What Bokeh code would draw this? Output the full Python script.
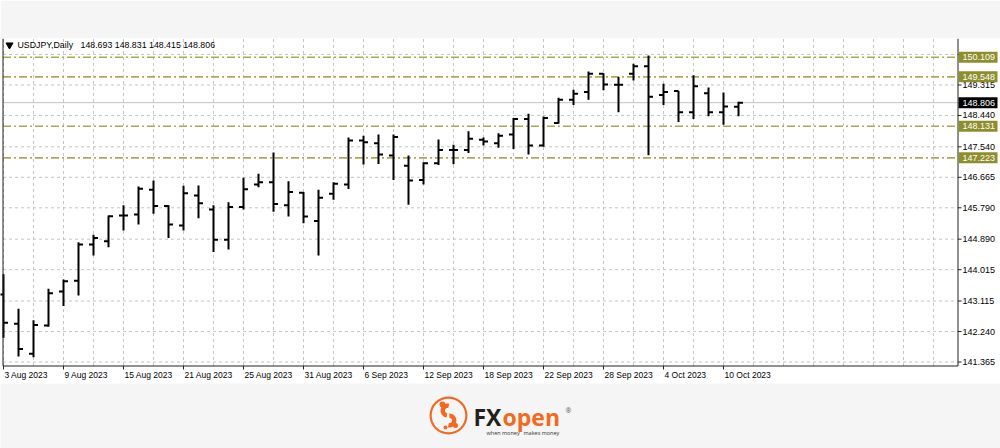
import pandas as pd
from bokeh.plotting import figure
from bokeh.layouts import column
from bokeh.models import Range1d, ColumnDataSource
from bokeh.core.properties import value
from bokeh.embed import file_html
from bokeh.resources import INLINE

# ---------------- data ----------------
symbol_label = "USDJPY,Daily"
dates = pd.bdate_range("2023-08-03", "2023-10-11")
opens = [143.30, 142.46, 141.60, 142.41, 143.39, 143.70, 144.74, 144.83, 145.57, 145.60,
         146.31, 145.84, 145.28, 146.14, 145.74, 144.87, 145.81, 146.46, 146.52, 145.86,
         146.22, 145.41, 146.19, 146.46, 147.72, 147.64, 147.29, 147.00, 146.59, 147.07,
         147.45, 147.45, 147.74, 147.64, 147.89, 148.34, 147.58, 148.22, 148.89, 149.11,
         149.64, 149.32, 149.64, 149.85, 149.03, 149.14, 148.53, 149.08, 148.53, 148.693]
highs = [143.88, 142.89, 142.56, 143.47, 143.73, 144.80, 145.02, 145.57, 145.86, 146.40,
         146.57, 145.86, 146.42, 146.43, 145.86, 145.95, 146.65, 146.77, 147.38, 146.55,
         146.24, 146.31, 146.52, 147.81, 147.86, 147.89, 147.89, 147.29, 147.10, 147.75,
         147.60, 147.99, 147.81, 147.93, 148.37, 148.49, 148.41, 148.95, 149.18, 149.70,
         149.65, 149.54, 149.92, 150.16, 149.35, 149.14, 149.59, 149.24, 149.10, 148.831]
lows = [142.06, 141.52, 141.50, 142.38, 142.97, 143.27, 144.42, 144.66, 145.14, 145.31,
        145.62, 144.92, 145.14, 145.49, 144.52, 144.59, 145.74, 146.38, 145.68, 145.54,
        145.35, 144.42, 146.02, 146.33, 147.03, 147.05, 146.59, 145.88, 146.46, 147.02,
        147.04, 147.36, 147.58, 147.51, 147.48, 147.32, 147.54, 148.20, 148.74, 148.89,
        149.16, 148.53, 149.44, 147.30, 148.74, 148.25, 148.34, 148.42, 148.17, 148.415]
closes = [142.49, 141.74, 142.43, 143.34, 143.68, 144.74, 144.92, 145.55, 145.57, 146.34,
          145.84, 145.31, 146.21, 145.92, 144.87, 145.81, 146.32, 146.52, 145.90, 146.24,
          145.54, 146.08, 146.48, 147.72, 147.67, 147.32, 147.82, 146.57, 147.07, 147.45,
          147.45, 147.77, 147.69, 147.86, 148.34, 147.58, 148.37, 148.89, 149.06, 149.64,
          149.33, 149.32, 149.85, 148.98, 149.11, 148.53, 149.28, 148.53, 148.70, 148.806]
price_ticks = [150.190, 149.315, 148.440, 147.540, 146.665, 145.790,
               144.890, 144.015, 143.115, 142.240, 141.365]
price_tick_labels = ["", "149.315", "148.440", "147.540", "146.665", "145.790",
                     "144.890", "144.015", "143.115", "142.240", "141.365"]
level_prices = [150.109, 149.548, 148.131, 147.223]
level_labels = ["150.109", "149.548", "148.131", "147.223"]
last_price = 148.806
last_label = "148.806"
date_label_step = 4
grid_step = 2

# ---------------- layout / style ----------------
W = 1000
TOP_BAND = 38
FRAME_H = 345
LOGO_H = 65
K = 15.0          # px per bar
PPY = 34.85       # px per yen
X0 = -3.0 / K
X1 = X0 + W / K
Y_TOP = 150.648
Y_BOT = Y_TOP - FRAME_H / PPY
BG = "#f5f5f5"
OLIVE_LINE = "#aaaa55"
OLIVE_BOX = "#8e8e2c"
GRID = "#c4c4c4"
AXIS = "#222222"
FONT = value("Liberation Sans")


def X(px):
    return X0 + px / K


def Y(py):
    return Y_TOP - (py - TOP_BAND) / PPY


n = len(opens)
idx = list(range(n))
T = 4.5 / K
src = ColumnDataSource(dict(
    x=idx, o=opens, h=highs, l=lows, c=closes,
    xl=[i - T for i in idx], xr=[i + T for i in idx],
))

p = figure(width=W, height=TOP_BAND + FRAME_H,
           x_range=Range1d(X0, X1), y_range=Range1d(Y_BOT, Y_TOP),
           x_axis_type=None, y_axis_type=None, toolbar_location=None,
           output_backend="svg",
           min_border_left=0, min_border_right=0, min_border_top=TOP_BAND,
           min_border_bottom=0, background_fill_color="white",
           border_fill_color=BG, outline_line_color=None)

x_axis_line = X(957.5)
x_left = X(2.5)
y_axis_line = Y(365.5)

# grid
gx = [i for i in range(0, int(x_axis_line) + 1, grid_step)]
p.segment(x0=gx, y0=[y_axis_line] * len(gx), x1=gx, y1=[Y_TOP] * len(gx),
          line_color=GRID, line_width=1, line_dash="3 3")
p.segment(x0=[x_left] * len(price_ticks), y0=price_ticks,
          x1=[x_axis_line] * len(price_ticks), y1=price_ticks,
          line_color=GRID, line_width=1, line_dash="3 3")

# current price line
p.segment(x0=[x_left], y0=[last_price], x1=[x_axis_line], y1=[last_price],
          line_color="#c0c0c0", line_width=1)

# horizontal levels
p.segment(x0=[x_left] * len(level_prices), y0=level_prices,
          x1=[x_axis_line] * len(level_prices), y1=level_prices,
          line_color=OLIVE_LINE, line_width=1.6, line_dash="8 3 2 3")

# OHLC bars
p.segment(x0="x", y0="l", x1="x", y1="h", source=src, line_color="black", line_width=2)
p.segment(x0="xl", y0="o", x1="x", y1="o", source=src, line_color="black", line_width=2)
p.segment(x0="x", y0="c", x1="xr", y1="c", source=src, line_color="black", line_width=2)

# frame lines (left border, bottom axis, right axis)
p.segment(x0=[x_left, x_left, x_axis_line], y0=[Y_TOP, y_axis_line, Y_TOP],
          x1=[x_left, x_axis_line, x_axis_line], y1=[y_axis_line, y_axis_line, y_axis_line],
          line_color=AXIS, line_width=1)

# right price axis ticks and labels
p.segment(x0=[x_axis_line] * len(price_ticks), y0=price_ticks,
          x1=[X(961)] * len(price_ticks), y1=price_ticks, line_color=AXIS, line_width=1)
lab_ticks = [t for t, s in zip(price_ticks, price_tick_labels) if s]
lab_texts = [s for s in price_tick_labels if s]
p.text(x=[X(962)] * len(lab_ticks), y=lab_ticks, text=lab_texts,
       text_font=FONT, text_font_size="9px", text_color="black",
       text_align="left", text_baseline="middle")

# level boxes + current price box
half_h = 5.5 / PPY
p.quad(left=[X(958)] * len(level_prices), right=[X(997)] * len(level_prices),
       top=[v + half_h for v in level_prices], bottom=[v - half_h for v in level_prices],
       fill_color=OLIVE_BOX, line_color=None)
p.text(x=[X(962)] * len(level_prices), y=level_prices, text=level_labels,
       text_font=FONT, text_font_size="9px", text_color="white",
       text_align="left", text_baseline="middle")
p.quad(left=[X(958)], right=[X(997)], top=[last_price + half_h], bottom=[last_price - half_h],
       fill_color="black", line_color=None)
p.text(x=[X(962)], y=[last_price], text=[last_label],
       text_font=FONT, text_font_size="9px", text_color="white",
       text_align="left", text_baseline="middle")

# date axis ticks and labels
di = idx[::date_label_step]
dlabels = [f"{d.day} {d.strftime('%b %Y')}" for d in dates[::date_label_step]]
p.segment(x0=di, y0=[y_axis_line] * len(di), x1=di, y1=[Y(369)] * len(di),
          line_color=AXIS, line_width=1)
p.text(x=[i + 1.0 / K for i in di], y=[Y(374)] * len(di), text=dlabels,
       text_font=FONT, text_font_size="8.5px", text_color="black",
       text_align="left", text_baseline="middle")

# header (symbol + last OHLC)
p.scatter(x=[X(9)], y=[Y(44.5)], marker="inverted_triangle", size=7,
          fill_color="black", line_color="black")
header_vals = f"{opens[-1]:.3f} {highs[-1]:.3f} {lows[-1]:.3f} {closes[-1]:.3f}"
p.text(x=[X(17), X(80)], y=[Y(44.5), Y(44.5)], text=[symbol_label, header_vals],
       text_font=FONT, text_font_size="8.8px", text_color="black",
       text_align="left", text_baseline="middle")

# ---------------- logo strip ----------------
ORANGE = "#f26a21"
lg = figure(width=W, height=LOGO_H, x_range=Range1d(0, W), y_range=Range1d(0, LOGO_H),
            x_axis_type=None, y_axis_type=None, toolbar_location=None,
            output_backend="svg", min_border=0,
            background_fill_color=BG, border_fill_color=BG, outline_line_color=None)
cx, cy = 448, 33
lg.annulus(x=[cx], y=[cy], inner_radius=16.8, outer_radius=19, fill_color=ORANGE, line_color=None)
lg.annular_wedge(x=[cx - 1, cx + 1], y=[cy + 5, cy - 5], inner_radius=2.5, outer_radius=7,
                 start_angle=[1.3, -1.8], end_angle=[4.6, 1.6],
                 fill_color=ORANGE, line_color=None)
lg.scatter(x=[cx - 6, cx + 7, cx - 3], y=[cy + 11, cy - 10, cy - 12], size=[6, 5, 4],
           marker="circle", fill_color=ORANGE, line_color=None)
lg.text(x=[473], y=[32], text=["FX"], text_font=value("Open Sans"),
        text_font_style="bold", text_font_size="23px", text_color="#231f20",
        text_align="left", text_baseline="middle")
lg.text(x=[502], y=[32], text=["open"], text_font=value("Open Sans"),
        text_font_style="bold", text_font_size="23px", text_color=ORANGE,
        text_align="left", text_baseline="middle")
lg.text(x=[565], y=[38], text=["®"], text_font=value("Open Sans"),
        text_font_size="7px", text_color="#555555",
        text_align="left", text_baseline="middle")
lg.text(x=[486, 523], y=[16, 16], text=["when money", "makes money"],
        text_font=value("Open Sans"), text_font_size="5.5px",
        text_color=["#333333", "#333333"], text_align="left", text_baseline="middle")

layout = column(p, lg, spacing=0)
open("out.html", "w").write(file_html(layout, INLINE))
